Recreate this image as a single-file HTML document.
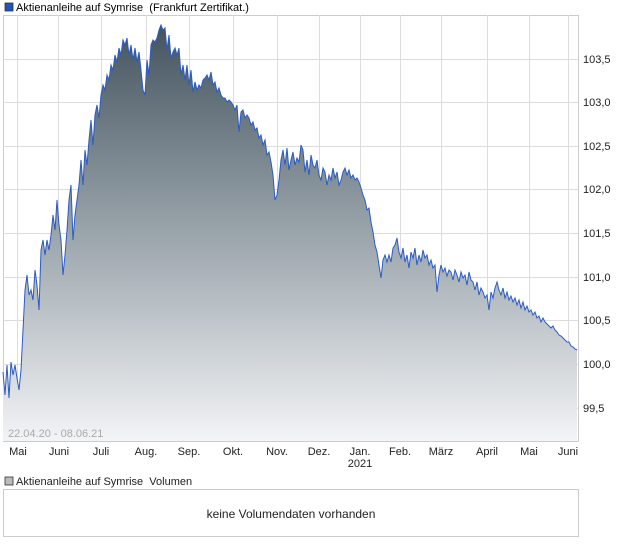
<!DOCTYPE html>
<html><head><meta charset="utf-8"><style>
body{margin:0;width:620px;height:546px;background:#fff;font-family:"Liberation Sans",sans-serif;overflow:hidden}
svg{position:absolute;left:0;top:0}
</style></head><body>
<svg width="620" height="546" xmlns="http://www.w3.org/2000/svg" font-family="Liberation Sans, sans-serif" font-size="11">
<defs><linearGradient id="g" x1="0" y1="25" x2="0" y2="441" gradientUnits="userSpaceOnUse">
<stop offset="0" stop-color="#44545f"/><stop offset="0.5" stop-color="#9aa4ab"/><stop offset="1" stop-color="#f3f4f6"/></linearGradient>
<path id="p" d="M3,372 L5,395 L7,365 L9,398 L11,362 L13,375 L15,365 L17,378 L19,390 L21,370 L23,330 L25,290 L27,275 L29,295 L31,290 L33,300 L35,270 L37,285 L39,310 L41,250 L43,240 L45,255 L47,240 L49,250 L51,235 L53,215 L55,230 L57,200 L59,225 L61,240 L63,275 L65,255 L67,230 L69,200 L71,185 L73,240 L75,215 L77,200 L79,185 L81,160 L83,185 L85,150 L87,165 L89,140 L91,120 L93,145 L95,115 L97,105 L99,118 L101,95 L103,85 L105,90 L107,75 L109,80 L111,65 L113,70 L115,55 L117,62 L119,48 L121,55 L123,40 L125,45 L127,38 L129,55 L131,45 L133,60 L135,48 L137,62 L139,52 L141,70 L143,90 L145,95 L147,60 L149,75 L151,45 L153,40 L155,42 L157,38 L159,30 L161,25 L163,30 L165,28 L167,50 L169,35 L171,58 L173,52 L175,48 L177,55 L179,48 L181,75 L183,65 L185,80 L187,65 L189,85 L191,70 L193,92 L195,82 L197,90 L199,85 L201,88 L203,80 L205,78 L207,75 L209,80 L211,72 L213,85 L215,82 L217,92 L219,88 L221,95 L223,98 L225,98 L227,102 L229,100 L231,102 L233,105 L235,110 L237,105 L239,132 L241,112 L243,110 L245,118 L247,115 L249,118 L251,125 L253,122 L255,130 L257,128 L259,138 L261,135 L263,145 L265,140 L267,155 L269,152 L271,162 L273,175 L275,200 L277,195 L279,180 L281,160 L283,150 L285,165 L287,148 L289,170 L291,160 L293,152 L295,165 L297,158 L299,162 L301,145 L303,150 L305,172 L307,160 L309,175 L311,155 L313,165 L315,168 L317,160 L319,175 L321,180 L323,168 L325,172 L327,185 L329,175 L331,180 L333,168 L335,178 L337,172 L339,185 L341,180 L343,172 L345,168 L347,175 L349,170 L351,178 L353,175 L355,180 L357,178 L359,182 L361,188 L363,195 L365,200 L367,210 L369,208 L371,222 L373,232 L375,245 L377,252 L379,265 L381,278 L383,260 L385,255 L387,262 L389,255 L391,262 L393,248 L395,245 L397,238 L399,252 L401,258 L403,248 L405,262 L407,255 L409,268 L411,252 L413,258 L415,248 L417,265 L419,255 L421,262 L423,250 L425,258 L427,255 L429,265 L431,260 L433,268 L435,265 L437,292 L439,275 L441,265 L443,272 L445,268 L447,276 L449,270 L451,272 L453,280 L455,270 L457,275 L459,282 L461,272 L463,278 L465,275 L467,285 L469,272 L471,280 L473,282 L475,290 L477,282 L479,295 L481,288 L483,292 L485,298 L487,295 L489,310 L491,292 L493,298 L495,288 L497,282 L499,290 L501,295 L503,288 L505,298 L507,292 L509,300 L511,296 L513,302 L515,298 L517,305 L519,300 L521,308 L523,302 L525,310 L527,306 L529,312 L531,310 L533,315 L535,312 L537,318 L539,316 L541,322 L543,318 L545,322 L547,324 L549,326 L551,328 L553,326 L555,330 L557,332 L559,335 L561,336 L563,338 L565,340 L567,342 L569,342 L571,346 L573,347 L575,349 L577,350"/>
</defs>
<rect x="5" y="3" width="8" height="8" fill="#1f55b8" stroke="#333" stroke-width="0.8"/>
<text x="16" y="11" xml:space="preserve">Aktienanleihe auf Symrise  (Frankfurt Zertifikat.)</text>
<rect x="3.5" y="15.5" width="575" height="426" fill="#fff" stroke="#ccc"/>
<g stroke="#ddd" stroke-width="1">
<line x1="3" y1="59.5" x2="578" y2="59.5"/><line x1="3" y1="102.5" x2="578" y2="102.5"/><line x1="3" y1="146.5" x2="578" y2="146.5"/><line x1="3" y1="189.5" x2="578" y2="189.5"/><line x1="3" y1="233.5" x2="578" y2="233.5"/><line x1="3" y1="277.5" x2="578" y2="277.5"/><line x1="3" y1="320.5" x2="578" y2="320.5"/><line x1="3" y1="364.5" x2="578" y2="364.5"/><line x1="3" y1="408.5" x2="578" y2="408.5"/>
<line x1="17.5" y1="15" x2="17.5" y2="441"/><line x1="58.5" y1="15" x2="58.5" y2="441"/><line x1="101.5" y1="15" x2="101.5" y2="441"/><line x1="146.5" y1="15" x2="146.5" y2="441"/><line x1="189.5" y1="15" x2="189.5" y2="441"/><line x1="233.5" y1="15" x2="233.5" y2="441"/><line x1="277.5" y1="15" x2="277.5" y2="441"/><line x1="319.5" y1="15" x2="319.5" y2="441"/><line x1="360.5" y1="15" x2="360.5" y2="441"/><line x1="400.5" y1="15" x2="400.5" y2="441"/><line x1="441.5" y1="15" x2="441.5" y2="441"/><line x1="487.5" y1="15" x2="487.5" y2="441"/><line x1="529.5" y1="15" x2="529.5" y2="441"/><line x1="568.5" y1="15" x2="568.5" y2="441"/>
</g>
<path d="M3,372 L5,395 L7,365 L9,398 L11,362 L13,375 L15,365 L17,378 L19,390 L21,370 L23,330 L25,290 L27,275 L29,295 L31,290 L33,300 L35,270 L37,285 L39,310 L41,250 L43,240 L45,255 L47,240 L49,250 L51,235 L53,215 L55,230 L57,200 L59,225 L61,240 L63,275 L65,255 L67,230 L69,200 L71,185 L73,240 L75,215 L77,200 L79,185 L81,160 L83,185 L85,150 L87,165 L89,140 L91,120 L93,145 L95,115 L97,105 L99,118 L101,95 L103,85 L105,90 L107,75 L109,80 L111,65 L113,70 L115,55 L117,62 L119,48 L121,55 L123,40 L125,45 L127,38 L129,55 L131,45 L133,60 L135,48 L137,62 L139,52 L141,70 L143,90 L145,95 L147,60 L149,75 L151,45 L153,40 L155,42 L157,38 L159,30 L161,25 L163,30 L165,28 L167,50 L169,35 L171,58 L173,52 L175,48 L177,55 L179,48 L181,75 L183,65 L185,80 L187,65 L189,85 L191,70 L193,92 L195,82 L197,90 L199,85 L201,88 L203,80 L205,78 L207,75 L209,80 L211,72 L213,85 L215,82 L217,92 L219,88 L221,95 L223,98 L225,98 L227,102 L229,100 L231,102 L233,105 L235,110 L237,105 L239,132 L241,112 L243,110 L245,118 L247,115 L249,118 L251,125 L253,122 L255,130 L257,128 L259,138 L261,135 L263,145 L265,140 L267,155 L269,152 L271,162 L273,175 L275,200 L277,195 L279,180 L281,160 L283,150 L285,165 L287,148 L289,170 L291,160 L293,152 L295,165 L297,158 L299,162 L301,145 L303,150 L305,172 L307,160 L309,175 L311,155 L313,165 L315,168 L317,160 L319,175 L321,180 L323,168 L325,172 L327,185 L329,175 L331,180 L333,168 L335,178 L337,172 L339,185 L341,180 L343,172 L345,168 L347,175 L349,170 L351,178 L353,175 L355,180 L357,178 L359,182 L361,188 L363,195 L365,200 L367,210 L369,208 L371,222 L373,232 L375,245 L377,252 L379,265 L381,278 L383,260 L385,255 L387,262 L389,255 L391,262 L393,248 L395,245 L397,238 L399,252 L401,258 L403,248 L405,262 L407,255 L409,268 L411,252 L413,258 L415,248 L417,265 L419,255 L421,262 L423,250 L425,258 L427,255 L429,265 L431,260 L433,268 L435,265 L437,292 L439,275 L441,265 L443,272 L445,268 L447,276 L449,270 L451,272 L453,280 L455,270 L457,275 L459,282 L461,272 L463,278 L465,275 L467,285 L469,272 L471,280 L473,282 L475,290 L477,282 L479,295 L481,288 L483,292 L485,298 L487,295 L489,310 L491,292 L493,298 L495,288 L497,282 L499,290 L501,295 L503,288 L505,298 L507,292 L509,300 L511,296 L513,302 L515,298 L517,305 L519,300 L521,308 L523,302 L525,310 L527,306 L529,312 L531,310 L533,315 L535,312 L537,318 L539,316 L541,322 L543,318 L545,322 L547,324 L549,326 L551,328 L553,326 L555,330 L557,332 L559,335 L561,336 L563,338 L565,340 L567,342 L569,342 L571,346 L573,347 L575,349 L577,350 L577,441 L3,441 Z" fill="url(#g)"/>
<use href="#p" fill="none" stroke="#2a5cc4" stroke-width="1"/>
<text x="8" y="437" fill="#aaa">22.04.20 - 08.06.21</text>
<g fill="#222">
<text x="583" y="63">103,5</text><text x="583" y="106">103,0</text><text x="583" y="150">102,5</text><text x="583" y="193">102,0</text><text x="583" y="237">101,5</text><text x="583" y="281">101,0</text><text x="583" y="324">100,5</text><text x="583" y="368">100,0</text><text x="583" y="412">99,5</text>
</g>
<g fill="#222" text-anchor="middle">
<text x="18" y="455">Mai</text><text x="59" y="455">Juni</text><text x="101" y="455">Juli</text><text x="146" y="455">Aug.</text><text x="189" y="455">Sep.</text><text x="233" y="455">Okt.</text><text x="277" y="455">Nov.</text><text x="319" y="455">Dez.</text><text x="360" y="455">Jan.</text><text x="360" y="467">2021</text><text x="400" y="455">Feb.</text><text x="441" y="455">März</text><text x="487" y="455">April</text><text x="529" y="455">Mai</text><text x="568" y="455">Juni</text>
</g>
<rect x="5" y="477" width="8" height="8" fill="#bbb" stroke="#333" stroke-width="0.8"/>
<text x="16" y="485" fill="#222" xml:space="preserve">Aktienanleihe auf Symrise  Volumen</text>
<rect x="3.5" y="489.5" width="575" height="47" fill="#fff" stroke="#ccc"/>
<text x="291" y="518" text-anchor="middle" font-size="12" fill="#222">keine Volumendaten vorhanden</text>
</svg>
</body></html>
